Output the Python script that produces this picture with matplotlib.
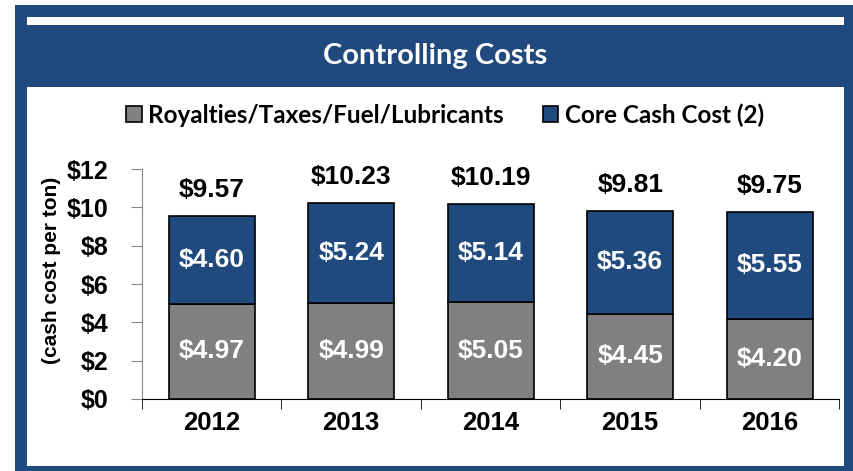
import matplotlib.pyplot as plt
from matplotlib.patches import Rectangle
import numpy as np

years = ['2012', '2013', '2014', '2015', '2016']
royalties = [4.97, 4.99, 5.05, 4.45, 4.20]
core_cash = [4.60, 5.24, 5.14, 5.36, 5.55]
totals = [9.57, 10.23, 10.19, 9.81, 9.75]
y_ticks = [0, 2, 4, 6, 8, 10, 12]

BLUE = '#204A7D'
GRAY = '#808080'
W, H = 854, 471


def px_rect(x0, y0, x1, y1, color):
    # rectangle given in image pixels (origin top-left)
    return Rectangle((x0 / W, 1 - y1 / H), (x1 - x0) / W, (y1 - y0) / H,
                     transform=fig.transFigure, facecolor=color, edgecolor='none', zorder=-5)


fig = plt.figure(figsize=(W / 100, H / 100), dpi=100)

# frame and title band
fig.patches.append(px_rect(15, 5, 854, 471, BLUE))
fig.patches.append(px_rect(27, 17, 844, 25, 'white'))
fig.patches.append(px_rect(27, 87, 844, 466, 'white'))
fig.text(435.5 / W, 1 - 56 / H, 'Controlling Costs', color='white', fontsize=21,
         fontweight='bold', family='Lato', ha='center', va='center')

ax = fig.add_axes([142 / W, 1 - 399 / H, 697.5 / W, 230 / H], zorder=2)
ax.set_facecolor('none')
x = np.arange(len(years))
b1 = ax.bar(x, royalties, width=0.62, color=GRAY, edgecolor='black', linewidth=1.2,
            label='Royalties/Taxes/Fuel/Lubricants')
b2 = ax.bar(x, core_cash, width=0.62, bottom=royalties, color=BLUE, edgecolor='black',
            linewidth=1.2, label='Core Cash Cost (2)')

lab = dict(fontsize=19, fontweight='bold', family='Liberation Sans', ha='center', va='center')
for i in range(len(years)):
    ax.text(x[i], royalties[i] / 2, f'${royalties[i]:.2f}', color='white', **lab)
    ax.text(x[i], royalties[i] + core_cash[i] / 2, f'${core_cash[i]:.2f}', color='white', **lab)
    ax.annotate(f'${totals[i]:.2f}', (x[i], totals[i]), xytext=(0, 10), textcoords='offset points',
                color='black', **{**lab, 'va': 'bottom'})

ax.set_xlim(-0.5, len(years) - 0.5)
ax.set_ylim(0, 12)
ax.set_yticks(y_ticks)
ax.set_yticklabels([f'${v}' for v in y_ticks], fontsize=18, fontweight='bold', family='Liberation Sans')
ax.set_xticks(x)
ax.set_xticklabels(years, fontsize=18.5, fontweight='bold', family='Liberation Sans')
ax.set_xticks(np.arange(-0.5, len(years)), minor=True)
ax.tick_params(axis='x', which='major', length=0, pad=9)
ax.tick_params(axis='x', which='minor', length=7, color='black', direction='out')
ax.tick_params(axis='y', length=8, color='#888888', pad=16)
for s in ['top', 'right']:
    ax.spines[s].set_visible(False)
ax.spines['left'].set_color('#888888')
ax.spines['bottom'].set_color('black')

fig.text(52 / W, 1 - 270 / H, '(cash cost per ton)', rotation=90, fontsize=15, fontweight='bold',
         family='Liberation Sans', ha='center', va='center')

fig.legend(handles=[b1, b2], loc='center', bbox_to_anchor=(445 / W, 1 - 115 / H), ncol=2,
           frameon=False, prop={'family': 'Lato', 'weight': 'bold', 'size': 17.5},
           handlelength=0.65, handleheight=0.65, handletextpad=0.25, columnspacing=1.6)

fig.savefig('out.png', dpi=100)
